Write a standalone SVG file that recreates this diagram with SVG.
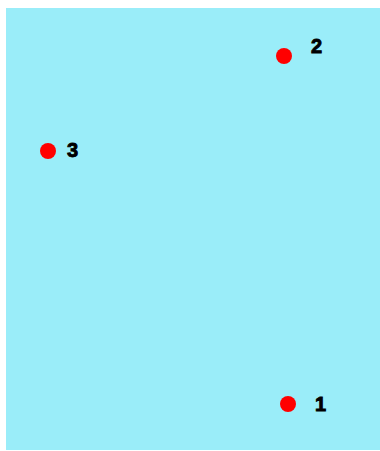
<svg xmlns="http://www.w3.org/2000/svg" width="380" height="451" viewBox="0 0 380 451">
<style>
.dot{fill:#ff0000}
.lbl{font-family:"Liberation Sans",Arial,sans-serif;font-weight:bold;font-size:20px;fill:#000;stroke:#000;stroke-width:0.9}
</style>
<rect x="0" y="0" width="380" height="451" fill="#ffffff"/>
<rect x="6" y="8" width="374" height="442" fill="#9aedf9"/>
<g id="connectors"></g>
<g id="node2"><circle class="dot" cx="284" cy="56" r="8"/><text class="lbl" x="311" y="53">2</text></g>
<g id="node3"><circle class="dot" cx="48" cy="151" r="8"/><text class="lbl" x="67" y="157">3</text></g>
<g id="node1"><circle class="dot" cx="288" cy="404" r="8"/><text class="lbl" x="315" y="411">1</text></g>
</svg>
